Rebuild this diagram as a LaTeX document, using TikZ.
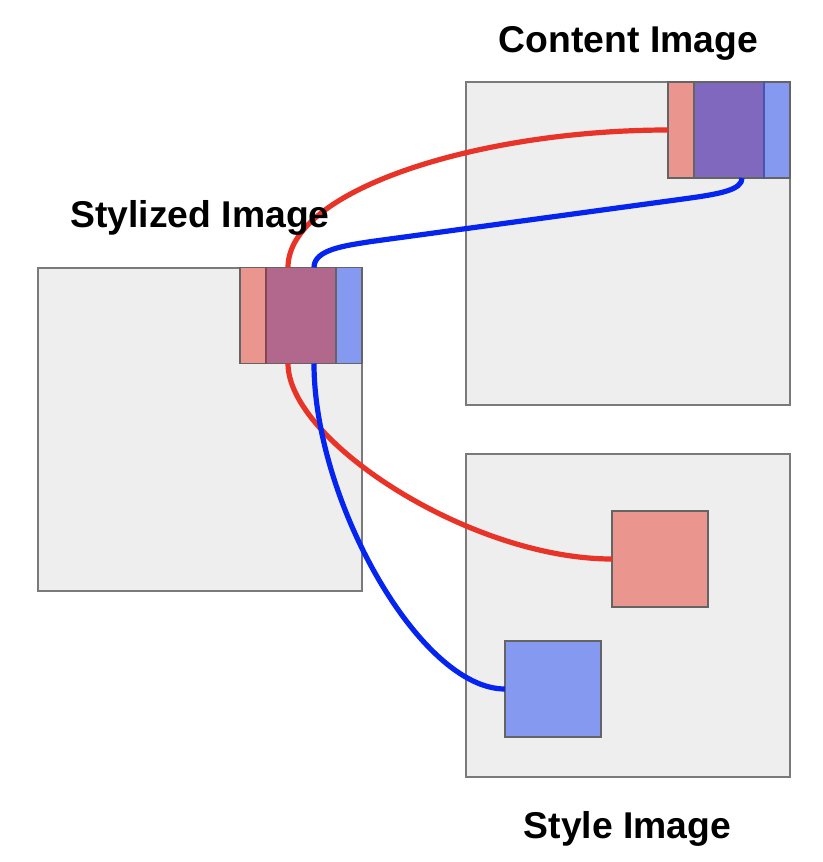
\documentclass[tikz,border=0pt]{standalone}
\usepackage{fontspec}
\setmainfont{Liberation Sans}
\definecolor{panel}{HTML}{EEEEEE}
\definecolor{bordgray}{HTML}{7A7A7A}
\definecolor{sqgray}{HTML}{646464}
\definecolor{pinkfill}{HTML}{EA968E}
\definecolor{bluefill}{HTML}{8599F0}
\definecolor{stpurple}{HTML}{B1688C}
\definecolor{ctpurple}{HTML}{8068BE}
\definecolor{stedge}{HTML}{84474F}
\definecolor{ctedge}{HTML}{4656A8}
\definecolor{linkred}{HTML}{E83428}
\definecolor{linkblue}{HTML}{0524F0}
\begin{document}
\begin{tikzpicture}[x=1pt,y=-1pt,
  big/.style={draw=bordgray,fill=panel,line width=1.6pt,minimum width=324pt,minimum height=323pt,inner sep=0pt,outer sep=0pt},
  sq/.style={draw=sqgray,line width=1.6pt,minimum width=96pt,minimum height=96pt,inner sep=0pt,outer sep=0pt},
  redsq/.style={sq,fill=pinkfill},
  bluesq/.style={sq,fill=bluefill},
  lbl/.style={font=\fontsize{37.3}{40}\selectfont\bfseries,inner sep=0pt,anchor=base},
  redlink/.style={draw=linkred,line width=5.2pt},
  bluelink/.style={draw=linkblue,line width=5.2pt}]
\useasboundingbox (0,0) rectangle (822,862);
% panels
\node[big] (styl) at (200,429.5) {};
\node[big] (cont) at (628,243.5) {};
\node[big] (styp) at (628,615.5) {};
% stylized composite
\node[bluesq] (sblue) at (314,315.5) {};
\node[redsq] (sred) at (288,315.5) {};
\fill[stpurple] ([shift={(0.8,0.8)}]sblue.north west) rectangle ([shift={(-0.8,-0.8)}]sred.south east);
\draw[stedge,line width=1.6pt] ([yshift=0.8]sblue.north west) -- ([yshift=-0.8]sblue.south west);
% content composite
\node[redsq] (cred) at (716,130) {};
\node[bluesq] (cblue) at (742,130) {};
\fill[ctpurple] ([shift={(0.8,0.8)}]cblue.north west) rectangle ([shift={(-0.8,-0.8)}]cred.south east);
\draw[ctedge,line width=1.6pt] ([yshift=0.8]cred.north east) -- ([yshift=-0.8]cred.south east);
% style squares
\node[redsq] (tred) at (660,559) {};
\node[bluesq] (tblue) at (553,689) {};
% links
\coordinate (b1) at (370,241.7);
\coordinate (b2) at (683,199);
\draw[redlink] (sred.north) .. controls +(0,-78) and +(-188,0) .. (cred.west);
\draw[bluelink] (sblue.north) .. controls +(0,-18) and +(-25,4) .. (b1) -- (b2) .. controls +(37,-5) and +(0,12) .. (cblue.south);
\draw[redlink] (sred.south) .. controls +(0,77) and +(-142,0) .. (tred.west);
\draw[bluelink] (sblue.south) .. controls +(0,137) and +(-85,0) .. (tblue.west);
% labels
\node[lbl] (lc) at (628.5,52) {Content Image};
\node[lbl] (ls) at (200,227) {Stylized Image};
\node[lbl] (lt) at (627.5,838) {Style Image};
\end{tikzpicture}
\end{document}
